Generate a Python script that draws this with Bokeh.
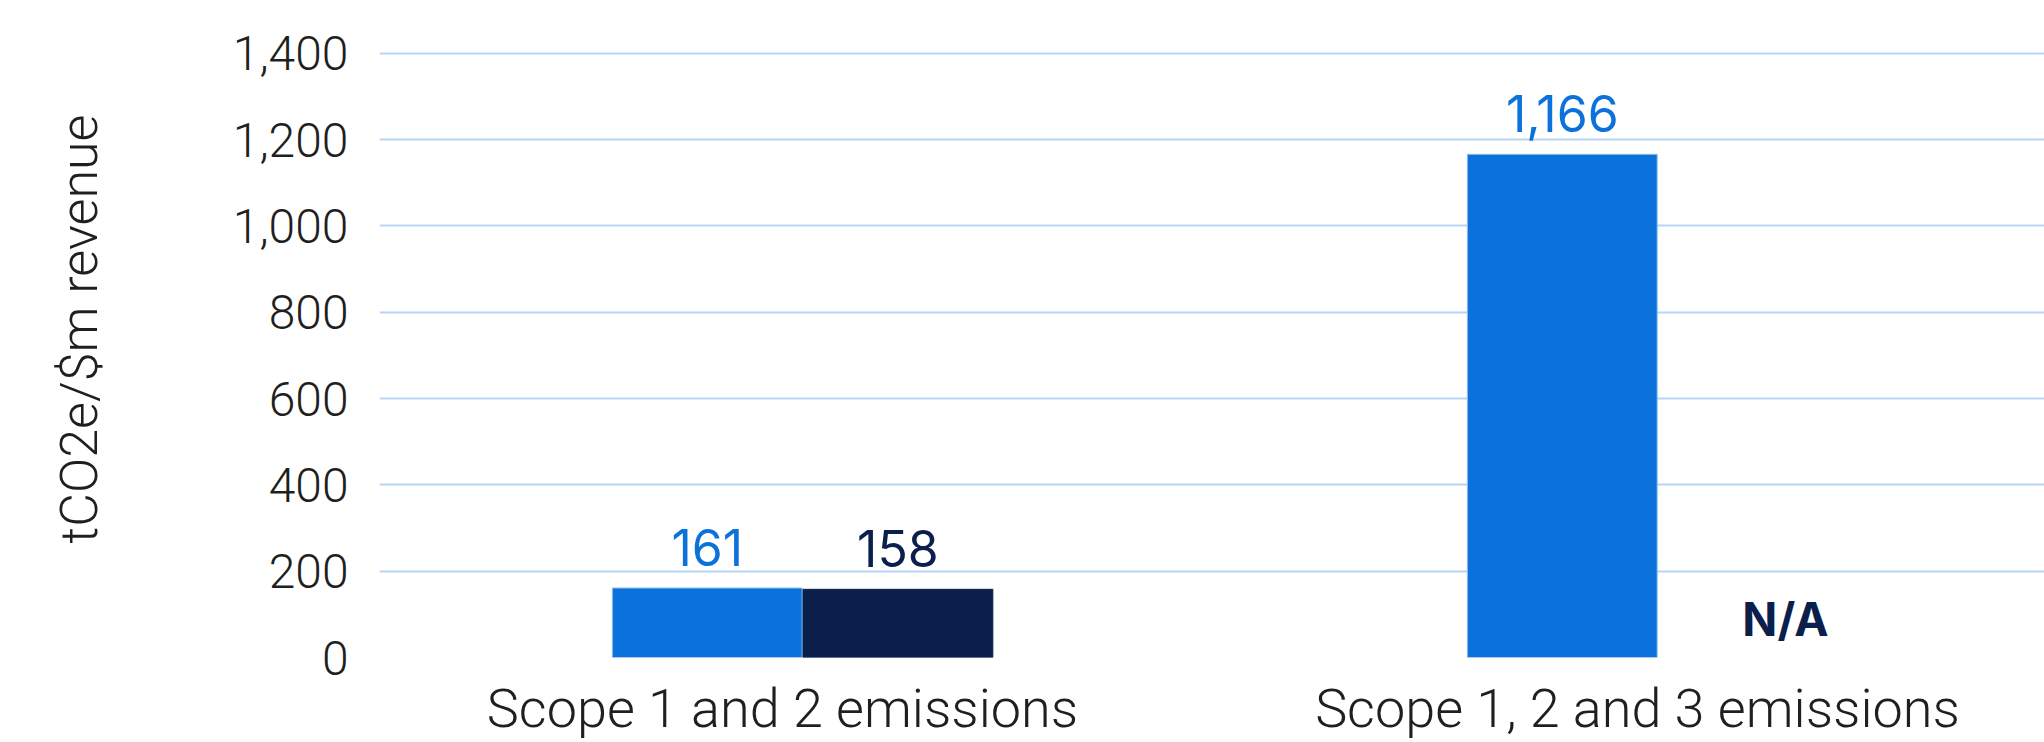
from bokeh.plotting import figure
from bokeh.models import (Range1d, FixedTicker, NumeralTickFormatter, ColumnDataSource,
                          LabelSet)
from bokeh.core.properties import value
from bokeh.embed import file_html
from bokeh.resources import INLINE

# ---- data ----
categories = ["Scope 1 and 2 emissions", "Scope 1, 2 and 3 emissions"]
series_blue = [161, 1166]
series_navy = [158, None]          # not available for scope 1, 2 and 3
labels_blue = ["161", "1,166"]
labels_navy = ["158", "N/A"]
y_ticks = [0, 200, 400, 600, 800, 1000, 1200, 1400]
y_title = "tCO2e/$m revenue"

BLUE = "#0B72DB"
NAVY = "#0A1F4B"
GRID = "#B7D5F4"
TEXT = "#1F1F1F"
THIN = "Roboto Light"

# layout constants (pixels)
W, H = 2044, 742
frame_left = 379
zero_px = 659          # y of value 0
top_tick_px = 53       # y of the top tick
cat_px = 855           # pixels per category
first_center_px = 782  # x of first category centre

bar_w = 0.222
off_blue = -0.088
off_navy = 0.135
na_shift = 0.038

centers = [i + 0.5 for i in range(len(categories))]

unit_px = (zero_px - top_tick_px) / y_ticks[-1]
y_end = y_ticks[-1] + top_tick_px / unit_px
x_start = centers[0] - (first_center_px - frame_left) / cat_px
x_end = x_start + (W - frame_left) / cat_px

p = figure(width=W, height=H, output_backend="svg", toolbar_location=None,
           x_range=Range1d(x_start, x_end), y_range=Range1d(0, y_end),
           min_border_left=frame_left, min_border_top=0, min_border_right=0,
           min_border_bottom=H - zero_px)
p.outline_line_color = None
p.background_fill_color = "white"
p.border_fill_color = "white"

# blue bars
src_b = ColumnDataSource(dict(x=[c + off_blue for c in centers], top=series_blue,
                              lab=labels_blue))
p.vbar(x="x", top="top", bottom=0, width=bar_w, source=src_b,
       fill_color=BLUE, line_color="#8CBDF0", line_width=1)
p.add_layout(LabelSet(x="x", y="top", text="lab", source=src_b, text_align="center",
                      text_baseline="alphabetic", y_offset=22, text_color=BLUE,
                      text_font=value("Inter"), text_font_size="50px"))

# navy bars (only where available)
nx, ntop, nlab = [], [], []
for c, v, l in zip(centers, series_navy, labels_navy):
    if v is not None:
        nx.append(c + off_navy); ntop.append(v); nlab.append(l)
src_n = ColumnDataSource(dict(x=nx, top=ntop, lab=nlab))
p.vbar(x="x", top="top", bottom=0, width=bar_w, source=src_n,
       fill_color=NAVY, line_color=NAVY, line_width=1)
p.add_layout(LabelSet(x="x", y="top", text="lab", source=src_n, text_align="center",
                      text_baseline="alphabetic", y_offset=22, text_color=NAVY,
                      text_font=value("Inter"), text_font_size="50px"))

# N/A marker
na_x = [c + off_navy + na_shift for c, v in zip(centers, series_navy) if v is None]
na_lab = [l for v, l in zip(series_navy, labels_navy) if v is None]
src_na = ColumnDataSource(dict(x=na_x, y=[0] * len(na_x), lab=na_lab))
p.add_layout(LabelSet(x="x", y="y", text="lab", source=src_na, text_align="center",
                      text_baseline="alphabetic", y_offset=22, text_color=NAVY,
                      text_font=value("Inter"), text_font_style="bold",
                      text_font_size="46px"))

# x axis (category names)
p.xaxis.ticker = FixedTicker(ticks=centers)
p.xaxis.major_label_overrides = {c: cat for c, cat in zip(centers, categories)}
p.xaxis.axis_line_color = None
p.xaxis.major_tick_line_color = None
p.xaxis.minor_tick_line_color = None
p.xaxis.major_tick_out = 0
p.xaxis.major_tick_in = 0
p.xaxis.major_label_standoff = 19
p.xaxis.major_label_text_font = THIN
p.xaxis.major_label_text_font_size = "54px"
p.xaxis.major_label_text_color = TEXT

# y axis
p.yaxis.ticker = FixedTicker(ticks=y_ticks)
p.yaxis.formatter = NumeralTickFormatter(format="0,0")
p.yaxis.axis_line_color = None
p.yaxis.major_tick_line_color = None
p.yaxis.minor_tick_line_color = None
p.yaxis.major_tick_out = 0
p.yaxis.major_tick_in = 0
p.yaxis.major_label_standoff = 31
p.yaxis.major_label_text_font = THIN
p.yaxis.major_label_text_font_size = "48px"
p.yaxis.major_label_text_color = TEXT
p.yaxis.axis_label = y_title
p.yaxis.axis_label_text_font = THIN
p.yaxis.axis_label_text_font_size = "52px"
p.yaxis.axis_label_text_font_style = "normal"
p.yaxis.axis_label_text_color = TEXT
p.yaxis.axis_label_standoff = 120

p.xgrid.grid_line_color = None
p.ygrid.grid_line_color = GRID
p.ygrid.grid_line_width = 2

open("out.html", "w").write(file_html(p, INLINE))
